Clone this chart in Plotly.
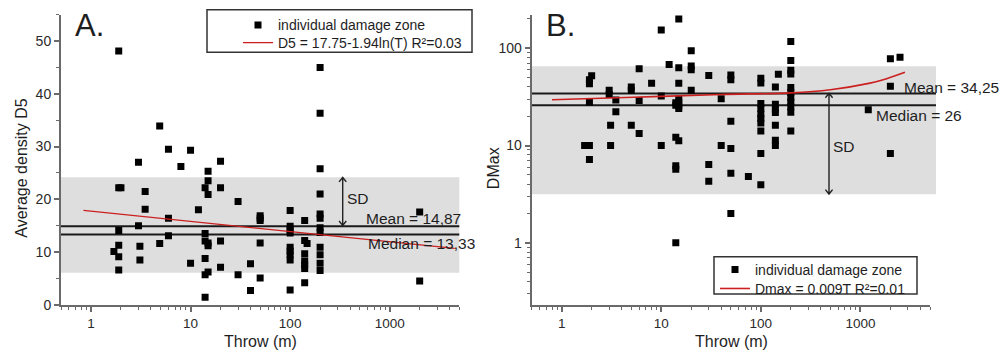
import numpy as np
import plotly.graph_objects as go

W, H = 1000, 357
FONT = "Liberation Sans, Arial, sans-serif"
TXT = "#1e1e1e"
AX = "#6a6a6a"

# ---------------- Panel A data ----------------
a_throw = [1.7,
           1.9, 1.9, 1.9, 1.9, 1.9, 1.9,
           2.0,
           3.0, 3.0,
           3.1, 3.1,
           3.5, 3.5,
           4.9, 4.9,
           6, 6, 6,
           8,
           10, 10,
           12,
           14, 14, 14, 14, 14, 14,
           15, 15, 15, 15, 15, 15,
           20, 20, 20, 20,
           30, 30,
           40, 40,
           50, 50, 50, 50, 50,
           100, 100, 100, 100, 100, 100, 100, 100, 100,
           140, 140, 140, 140, 140, 140, 140,
           148,
           200, 200, 200, 200, 200, 200, 200, 200, 200, 200, 200, 200,
           2000, 2000]
a_d5 = [10.1,
        48.1, 22.2, 14.1, 11.3, 9.1, 6.6,
        22.2,
        27.0, 15.0,
        11.1, 8.5,
        21.5, 18.1,
        33.9, 11.6,
        29.5, 16.4, 13.1,
        26.2,
        29.3, 7.9,
        18.0,
        22.2, 13.5, 12.1, 8.8, 5.7, 1.45,
        25.3, 23.5, 20.9, 11.7, 11.2, 6.2,
        27.2, 22.2, 12.1, 7.1,
        19.6, 5.7,
        7.8, 2.7,
        16.9, 16.4, 16.0, 11.7, 5.1,
        17.9, 14.9, 14.2, 13.6, 10.9, 10.2, 9.5, 8.5, 2.8,
        16.0, 12.2, 9.7, 8.3, 7.6, 6.9, 4.2,
        11.6,
        45.0, 36.3, 25.8, 21.0, 17.2, 16.4, 14.6, 13.7, 10.9, 9.5, 7.9, 6.5,
        17.6, 4.5]
a_fit_x = [0.84, 4500]
a_fit_y = [17.9, 10.7]
a_mean, a_median = 14.87, 13.33
a_band = [6.1, 24.2]

# ---------------- Panel B data ----------------
b_throw = [1.7,
           1.9, 1.9, 1.9, 1.9, 1.9,
           2.0,
           3.0, 3.0,
           3.1, 3.1,
           3.5, 3.5,
           5, 5, 5,
           6, 6, 6,
           8,
           10, 10, 10,
           12,
           14, 14, 14, 14, 14, 14,
           15, 15, 15, 15, 15, 15, 15, 15,
           20, 20, 20, 20,
           30, 30, 30,
           40, 40,
           50, 50, 50, 50, 50, 50,
           75,
           100, 100, 100, 100, 100, 100, 100, 100, 100, 100,
           140, 140, 140, 140, 140, 140, 140,
           150,
           200, 200, 200, 200, 200, 200, 200, 200, 200, 200, 200,
           1200,
           2000, 2000, 2000,
           2500]
b_dmax = [10,
          47.4, 43.2, 28, 10, 7.2,
          52,
          37, 33.5,
          16.2, 10,
          29.3, 22.3,
          40, 36.7, 16.2,
          61.5, 29, 13.3,
          43.6,
          154, 32.2, 10,
          68,
          27.5, 26, 12.2, 6.2, 5.7, 1.0,
          200, 63, 43.6, 30, 28, 25.5, 24, 11.2,
          94, 65.6, 60, 37,
          52.4, 6.4, 4.3,
          30.3, 10,
          53, 47.4, 17.8, 9.3, 5.2, 2.0,
          4.8,
          49.2, 43.8, 27, 24, 21, 19, 17, 14.1, 8.3, 3.95,
          40, 26.6, 23.6, 21.8, 16.2, 11.3, 10,
          54,
          117, 75, 59.5, 54.4, 39.5, 35, 31, 28, 25, 22, 14.1,
          23.3,
          78, 40.6, 8.3,
          80.6]
b_fit_x = [0.8, 3, 10, 40, 200, 500, 1250, 1800, 2800]
b_fit_y = [29.5, 30.8, 32, 33.5, 34.8, 37.5, 43.8, 48.3, 56.5]
b_mean, b_median = 34.25, 26
b_band = [3.15, 65.3]

x_tick_vals = [1, 10, 100, 1000]
a_y_ticks = [0, 10, 20, 30, 40, 50]
b_y_ticks = [1, 10, 100]


def px(x):
    return x / W


def py(y):
    return 1 - y / H


fig = go.Figure()

mk = dict(symbol="square", size=7, color="black", line=dict(width=0))
fig.add_trace(go.Scatter(x=a_throw, y=a_d5, mode="markers", marker=mk,
                         name="individual damage zone", xaxis="x", yaxis="y",
                         legend="legend"))
fig.add_trace(go.Scatter(x=a_fit_x, y=a_fit_y, mode="lines",
                         line=dict(color="#cc1f1f", width=1.3),
                         name="D5 = 17.75-1.94ln(T) R\u00b2=0.03",
                         xaxis="x", yaxis="y", legend="legend3"))
fig.add_trace(go.Scatter(x=b_throw, y=b_dmax, mode="markers", marker=mk,
                         name="individual damage zone", xaxis="x2", yaxis="y2",
                         legend="legend2"))
fig.add_trace(go.Scatter(x=b_fit_x, y=b_fit_y, mode="lines",
                         line=dict(color="#cc1f1f", width=1.6, shape="spline"),
                         name="Dmax = 0.009T R\u00b2=0.01",
                         xaxis="x2", yaxis="y2", legend="legend4"))

shapes = []
# bands
shapes.append(dict(type="rect", xref="x domain", yref="y", x0=0, x1=1.0,
                   y0=a_band[0], y1=a_band[1], fillcolor="#dedede",
                   line=dict(width=0), layer="below"))
shapes.append(dict(type="rect", xref="x2 domain", yref="y2", x0=0, x1=1.015,
                   y0=b_band[0], y1=b_band[1], fillcolor="#dedede",
                   line=dict(width=0), layer="below"))
for v in (a_mean, a_median):
    shapes.append(dict(type="line", xref="x domain", yref="y", x0=0, x1=1.0,
                       y0=v, y1=v, line=dict(color="#1a1a1a", width=2),
                       layer="below"))
for v in (b_mean, b_median):
    shapes.append(dict(type="line", xref="x2 domain", yref="y2", x0=0, x1=1.015,
                       y0=v, y1=v, line=dict(color="#1a1a1a", width=2),
                       layer="below"))
# legend boxes
shapes.append(dict(type="rect", xref="paper", yref="paper",
                   x0=px(207), x1=px(472), y0=py(10), y1=py(53.5),
                   line=dict(color="#333333", width=1.5), fillcolor="white",
                   layer="below"))
shapes.append(dict(type="rect", xref="paper", yref="paper",
                   x0=px(714), x1=px(917), y0=py(262.7), y1=py(300.7),
                   line=dict(color="#333333", width=1.5), fillcolor="white",
                   layer="below"))


# SD double arrows (decorations, paper pixel positions)
def sd_arrow(x, ytop, ybot, hw=3.6, hh=4.5):
    p = (f"M{px(x)},{py(ytop)} L{px(x)},{py(ybot)} "
         f"M{px(x - hw)},{py(ytop + hh)} L{px(x)},{py(ytop)} L{px(x + hw)},{py(ytop + hh)} "
         f"M{px(x - hw)},{py(ybot - hh)} L{px(x)},{py(ybot)} L{px(x + hw)},{py(ybot - hh)}")
    shapes.append(dict(type="path", xref="paper", yref="paper", path=p,
                       line=dict(color="#222222", width=1.4)))


sd_arrow(342.7, 181.5, 230.5)
sd_arrow(829, 95.5, 198.5)

ann = []


def txt(x, y, s, size=15.5, xanchor="left", angle=0):
    ann.append(dict(x=px(x), y=py(y), xref="paper", yref="paper", text=s,
                    showarrow=False, xanchor=xanchor, yanchor="middle",
                    textangle=angle,
                    font=dict(family=FONT, size=size, color=TXT)))


txt(73, 26.5, "A.", size=31)
txt(544, 26.5, "B.", size=31)
txt(364, 223.5, "Mean = 14,87")
txt(366, 249, "Median = 13,33")
txt(345, 203.5, "SD")
txt(902, 89.5, "Mean = 34,25")
txt(874, 118, "Median = 26")
txt(831, 150, "SD")
# axis titles
txt(22, 172.5, "Average density D5", size=16, xanchor="center", angle=-90)
txt(493, 172, "DMax", size=16, xanchor="center", angle=-90)
txt(260, 349, "Throw (m)", size=16, xanchor="center")
txt(731.5, 349, "Throw (m)", size=16, xanchor="center")

axis_common = dict(showgrid=False, zeroline=False, showline=True,
                   linecolor=AX, linewidth=2, ticks="outside", ticklen=5,
                   tickwidth=1.5, tickcolor=AX, mirror=False)
TF_Y = dict(family=FONT, size=14, color="#2a2a2a")
TF_X = dict(family=FONT, size=13.5, color="#2a2a2a")

xlog = dict(type="log", range=[np.log10(0.5), np.log10(5000)],
            tickvals=x_tick_vals, ticktext=[str(v) for v in x_tick_vals],
            tickfont=TF_X,
            minor=dict(ticks="outside", ticklen=3, tickwidth=1.2, tickcolor=AX,
                       tickvals=[v * m for v in [0.1, 1, 10, 100, 1000]
                                 for m in range(2, 10)]),
            **axis_common)

ydomain = [py(311.8), py(15)]


def leg(xpix, ycenter):
    return dict(x=px(xpix), xanchor="left", y=py(ycenter), yanchor="middle",
                bgcolor="rgba(0,0,0,0)", borderwidth=0, tracegroupgap=0,
                font=dict(family=FONT, size=14, color=TXT))


fig.update_layout(
    width=W, height=H, autosize=False,
    margin=dict(l=0, r=0, t=0, b=0),
    paper_bgcolor="white", plot_bgcolor="white",
    font=dict(family=FONT, color=TXT),
    xaxis=dict(domain=[px(61), px(459.3)], anchor="y", **xlog),
    yaxis=dict(domain=ydomain, anchor="x", range=[0, 55],
               tickvals=a_y_ticks, tickfont=TF_Y,
               minor=dict(ticks="outside", ticklen=3, tickwidth=1.2,
                          tickcolor=AX, dtick=5),
               **axis_common),
    xaxis2=dict(domain=[px(531.7), px(930)], anchor="y2", **xlog),
    yaxis2=dict(domain=ydomain, anchor="x2", type="log",
                range=[-0.637, 2.345], tickvals=b_y_ticks,
                ticktext=[str(v) for v in b_y_ticks], tickfont=TF_Y,
                minor=dict(ticks="outside", ticklen=3, tickwidth=1.2,
                           tickcolor=AX,
                           tickvals=[v * m for v in [0.1, 1, 10, 100]
                                     for m in range(2, 10)]),
                **axis_common),
    legend=leg(238, 26),
    legend3=leg(238, 44),
    legend2=leg(715, 276),
    legend4=leg(715, 295.5),
    shapes=shapes,
    annotations=ann,
    showlegend=True,
)

fig.write_html("out.html")
